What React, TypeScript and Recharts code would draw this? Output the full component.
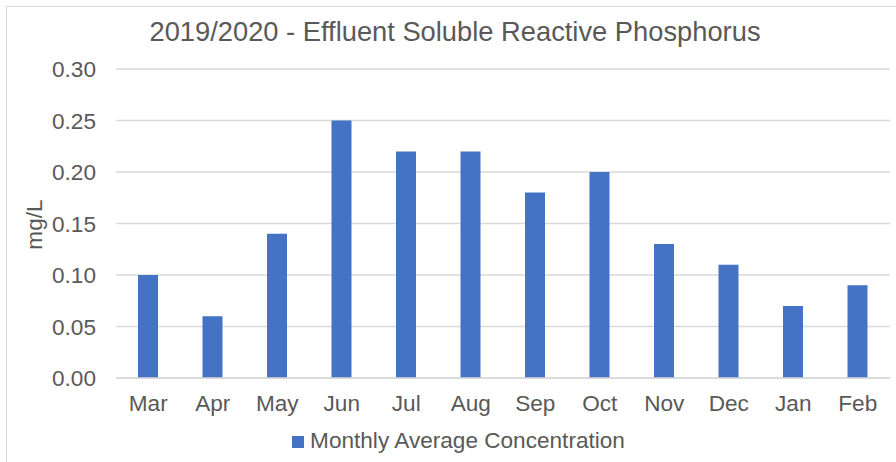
import React from "react";
import { BarChart, Bar, XAxis, YAxis, CartesianGrid, Legend } from "recharts";

const months = ["Mar", "Apr", "May", "Jun", "Jul", "Aug", "Sep", "Oct", "Nov", "Dec", "Jan", "Feb"];
const concentration = [0.10, 0.06, 0.14, 0.25, 0.22, 0.22, 0.18, 0.20, 0.13, 0.11, 0.07, 0.09];
const yTicks = [0, 0.05, 0.10, 0.15, 0.20, 0.25, 0.30];

const title = "2019/2020 - Effluent Soluble Reactive Phosphorus";
const seriesName = "Monthly Average Concentration";
const yLabel = "mg/L";

const data = months.map((m, i) => ({ month: m, value: concentration[i] }));

const FONT = '"Liberation Sans", Arial, sans-serif';
const TEXT = "#595959";
const FS = 22.6;

export default function App() {
  return (
    <div style={{ position: "absolute", left: 0, top: 0, width: 896, height: 462, background: "#fff", fontFamily: FONT }}>
      <div
        style={{
          position: "absolute",
          left: 6,
          top: 6,
          width: 900,
          height: 470,
          borderTop: "1px solid #d9d9d9",
          borderLeft: "1px solid #d9d9d9",
        }}
      />
      <div
        style={{
          position: "absolute",
          left: 0,
          width: 910,
          top: 16,
          textAlign: "center",
          fontSize: 27.3,
          color: TEXT,
          lineHeight: "32px",
          whiteSpace: "nowrap",
        }}
      >
        {title}
      </div>
      <BarChart
        width={896}
        height={462}
        data={data}
        margin={{ top: 69, right: 6, bottom: 0, left: 0 }}
        style={{ position: "absolute", left: 0, top: 0 }}
      >
        <CartesianGrid vertical={false} stroke="#d9d9d9" strokeWidth={1.3} />
        <XAxis
          dataKey="month"
          height={84}
          tickSize={0}
          tickMargin={17}
          axisLine={{ stroke: "#d9d9d9", strokeWidth: 1.3 }}
          tickLine={false}
          tick={{ fill: TEXT, fontSize: FS, fontFamily: FONT }}
          interval={0}
        />
        <YAxis
          width={116}
          domain={[0, 0.3]}
          ticks={yTicks}
          tickFormatter={(v: number) => v.toFixed(2)}
          tickSize={0}
          tickMargin={20}
          axisLine={false}
          tickLine={false}
          tick={{ fill: TEXT, fontSize: FS, fontFamily: FONT }}
          label={{
            value: yLabel,
            angle: -90,
            position: "center",
            dx: -24,
            dy: 1,
            fill: TEXT,
            fontSize: FS,
            fontFamily: FONT,
          }}
        />
        <Legend
          layout="horizontal"
          verticalAlign="middle"
          align="center"
          iconType="square"
          iconSize={12}
          wrapperStyle={{ top: 428, left: 32, width: 863, fontSize: FS, fontFamily: FONT }}
          formatter={(v: string) => <span style={{ color: TEXT, marginLeft: 2 }}>{v}</span>}
        />
        <Bar dataKey="value" name={seriesName} fill="#4472C4" barSize={20} isAnimationActive={false} />
      </BarChart>
    </div>
  );
}
